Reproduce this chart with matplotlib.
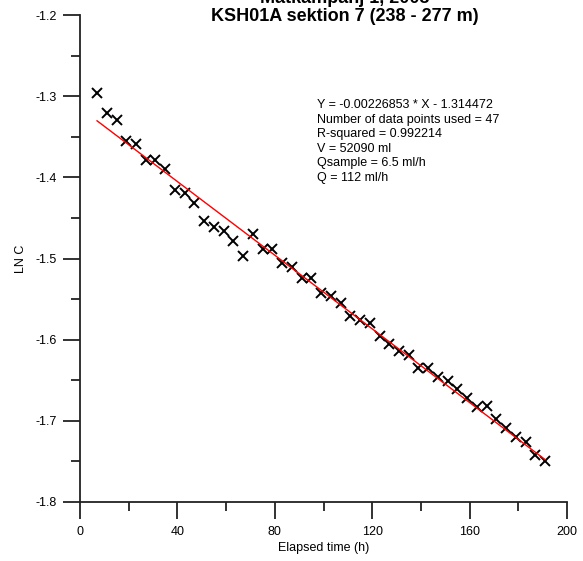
import matplotlib
matplotlib.use("Agg")
import matplotlib.pyplot as plt
from matplotlib.ticker import MultipleLocator, FormatStrFormatter

plt.rcParams['font.family'] = ['Liberation Sans', 'DejaVu Sans']
plt.rcParams['axes.unicode_minus'] = False

# elapsed time (h) and ln C
time_h = [7, 11, 15, 19, 23, 27, 31, 35, 39, 43, 47, 51, 55, 59, 63, 67,
          71, 75, 79, 83, 87, 91, 95, 99, 103, 107, 111, 115, 119, 123,
          127, 131, 135, 139, 143, 147, 151, 155, 159, 163, 167, 171, 175,
          179, 183, 187, 191]
ln_c = [-1.2957, -1.3211, -1.3294, -1.3552, -1.3593, -1.3786, -1.3786,
        -1.3901, -1.4150, -1.4197, -1.4320, -1.4534, -1.4616, -1.4657,
        -1.4784, -1.4965, -1.4698, -1.4883, -1.4883, -1.5059, -1.5101,
        -1.5236, -1.5236, -1.5421, -1.5462, -1.5552, -1.5705, -1.5758,
        -1.5798, -1.5950, -1.6053, -1.6142, -1.6189, -1.6345, -1.6345,
        -1.6456, -1.6505, -1.6611, -1.6722, -1.6826, -1.6817, -1.6981,
        -1.7092, -1.7203, -1.7264, -1.7421, -1.7491]

slope = -0.00226853
intercept = -1.314472
fit_x = [time_h[0], time_h[-1]]
fit_y = [slope * x + intercept for x in fit_x]

info = ["Y = -0.00226853 * X - 1.314472",
        "Number of data points used = 47",
        "R-squared = 0.992214",
        "V = 52090 ml",
        "Qsample = 6.5 ml/h",
        "Q = 112 ml/h"]

W, H = 583, 561
fig = plt.figure(figsize=(W / 100, H / 100), dpi=100)
ax = fig.add_axes([80 / W, 1 - 502 / H, 487 / W, 487 / H])

ax.plot(time_h, ln_c, linestyle='none', marker='x', color='black',
        markersize=7, markeredgewidth=1.4)
ax.plot(fit_x, fit_y, color='red', linewidth=1.0)

ax.set_xlim(0, 200)
ax.set_ylim(-1.8, -1.2)
ax.xaxis.set_major_locator(MultipleLocator(40))
ax.xaxis.set_minor_locator(MultipleLocator(20))
ax.yaxis.set_major_locator(MultipleLocator(0.1))
ax.yaxis.set_minor_locator(MultipleLocator(0.05))
ax.yaxis.set_major_formatter(FormatStrFormatter('%.1f'))

for s in ['top', 'right']:
    ax.spines[s].set_visible(False)
for s in ['left', 'bottom']:
    ax.spines[s].set_linewidth(1.3)
    ax.spines[s].set_color('#222222')

ax.tick_params(which='major', direction='out', length=12, width=1.3,
               labelsize=9, pad=5, color='#222222')
ax.tick_params(which='minor', direction='out', length=6.5, width=1.3,
               color='#222222')

ax.set_xlabel("Elapsed time (h)", fontsize=9, labelpad=3)
ax.set_ylabel("LN C", fontsize=9, labelpad=6)

fig.text(345 / W, 1 - 3 / H, "Mätkampanj 1, 2003", ha='center',
         va='baseline', fontsize=13, fontweight='bold')
fig.text(345 / W, 1 - 21 / H, "KSH01A sektion 7 (238 - 277 m)",
         ha='center', va='baseline', fontsize=13, fontweight='bold')

# fit summary, one line at a time
for i, line in enumerate(info):
    fig.text(317 / W, 1 - (108 + i * 14.6) / H, line, fontsize=9,
             ha='left', va='baseline')

fig.savefig("out.png", dpi=100)
